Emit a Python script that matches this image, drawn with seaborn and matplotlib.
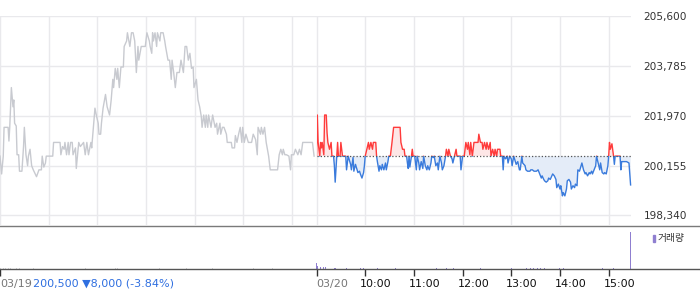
import numpy as np
import pandas as pd
import matplotlib
matplotlib.use("Agg")
import matplotlib.pyplot as plt
from matplotlib.patches import Rectangle
from matplotlib.lines import Line2D
import seaborn as sns

# ---------------- data ----------------
# minutes after 09:00 on 03/19 (previous session)
day1_min = [0, 2, 4, 5, 10, 11, 12, 14, 16, 17, 18, 20, 21, 23, 24, 27, 29, 30, 32, 34,
            35, 37, 39, 41, 45, 48, 51, 52, 54, 56, 57, 60, 62, 65, 66, 74, 75, 77, 79, 80,
            82, 84, 85, 87, 89, 90, 93, 94, 97, 99, 103, 105, 107, 109, 112, 113, 115, 117, 119, 121,
            122, 124, 125, 127, 130, 132, 135, 137, 139, 140, 142, 144, 145, 147, 149, 152, 153, 156, 157, 160,
            162, 164, 166, 168, 170, 171, 174, 176, 179, 181, 184, 185, 187, 188, 189, 191, 193, 194, 197, 198,
            201, 203, 204, 207, 209, 211, 212, 214, 216, 218, 221, 223, 226, 228, 230, 232, 234, 236, 238, 239,
            242, 244, 246, 248, 249, 251, 253, 254, 256, 257, 260, 262, 265, 267, 268, 271, 272, 274, 276, 279,
            280, 285, 286, 289, 290, 292, 294, 296, 298, 299, 301, 303, 306, 310, 312, 315, 317, 318, 321, 322,
            324, 326, 328, 331, 333, 336, 342, 344, 346, 348, 349, 351, 353, 356, 358, 359, 362, 364, 367, 369,
            371, 373, 376, 385, 387]
day1_price = [200500, 199850, 200500, 201550, 201550, 201050, 201550, 203000, 202300, 202550,
              201700, 201600, 200550, 200550, 199950, 199950, 200850, 201550, 200550, 200150,
              200500, 200750, 200150, 200000, 199750, 200000, 200000, 200500, 200100, 200250,
              200500, 200500, 200500, 200500, 201000, 201000, 200550, 200850, 200750, 201000,
              200550, 201000, 200550, 201000, 201000, 200550, 200800, 200050, 201000, 200850,
              201000, 200550, 201000, 200550, 201000, 200800, 201550, 202250, 201950, 201700,
              201300, 201300, 201700, 202250, 202750, 202300, 202000, 202550, 203300, 203000,
              203700, 203300, 203700, 203000, 203750, 203750, 204500, 204700, 205000, 204500,
              205000, 205000, 204700, 203550, 204500, 204000, 204500, 204500, 204500, 205000,
              204700, 204500, 204250, 205000, 204700, 205000, 204500, 205000, 204700, 205000,
              205000, 204700, 204500, 204000, 204000, 203300, 204000, 203550, 203000, 203550,
              203550, 204000, 203550, 204500, 204500, 204000, 204250, 203700, 203750, 203000,
              203300, 202550, 202300, 201950, 201550, 202000, 201550, 202000, 201550, 202000,
              201550, 202000, 201550, 201700, 201300, 201700, 201300, 201550, 201550, 201300,
              201000, 201000, 200800, 200800, 201250, 201000, 201300, 201550, 201000, 201550,
              201000, 201300, 201000, 201000, 201300, 201100, 200550, 201550, 201300, 201550,
              201300, 201550, 201000, 200500, 200000, 200000, 200000, 200550, 200750, 200550,
              200750, 200550, 200550, 200500, 200000, 200550, 200550, 200750, 200550, 200750,
              200550, 201000, 201000, 201000, 200500]

# minutes after 09:00 on 03/20 (current session)
day2_min = [0, 1, 2, 4, 5, 6, 7, 9, 10, 12, 13, 14, 16, 18, 19, 21, 22, 23, 25, 26,
            27, 29, 30, 32, 36, 37, 39, 40, 42, 43, 45, 46, 48, 50, 51, 53, 54, 56, 58, 59,
            60, 62, 64, 65, 67, 69, 70, 73, 74, 75, 77, 78, 80, 81, 83, 85, 86, 88, 89, 91,
            93, 95, 97, 103, 104, 106, 108, 109, 111, 112, 113, 114, 115, 117, 118, 119, 121, 123, 124, 126,
            127, 129, 131, 132, 134, 136, 137, 139, 141, 142, 144, 145, 147, 149, 150, 152, 154, 155, 157, 159,
            160, 162, 163, 165, 167, 168, 170, 172, 173, 177, 178, 180, 182, 184, 186, 187, 189, 190, 192, 194,
            199, 200, 202, 204, 205, 207, 209, 210, 212, 214, 215, 217, 219, 220, 222, 223, 226, 227, 229, 230,
            231, 233, 235, 236, 238, 240, 241, 243, 245, 246, 248, 250, 251, 253, 254, 257, 258, 260, 263, 264,
            266, 268, 271, 273, 275, 277, 278, 280, 281, 283, 285, 286, 288, 290, 291, 293, 295, 296, 298, 300,
            301, 303, 304, 306, 308, 309, 311, 313, 314, 316, 318, 319, 321, 322, 324, 326, 327, 329, 331, 332,
            334, 336, 337, 339, 340, 342, 344, 345, 347, 349, 350, 352, 354, 355, 357, 359, 360, 361, 362, 364,
            366, 367, 368, 370, 374, 375, 376, 382, 385, 387]
day2_price = [200500, 202000, 201000, 200500, 201000, 200800, 201000, 200550, 202000, 202000,
              201350, 201000, 200750, 201000, 200500, 200500, 200150, 199550, 200500, 201000,
              200500, 200500, 201000, 200500, 200500, 200000, 200500, 200400, 200200, 200000,
              200450, 199950, 200200, 200000, 199900, 199950, 199850, 199700, 199900, 200150,
              200500, 200750, 201000, 200750, 201000, 200750, 201000, 201000, 200500, 200300,
              199950, 200150, 200000, 200200, 200000, 200250, 200000, 200300, 200500, 200500,
              201000, 201550, 201550, 201550, 201000, 200750, 200750, 200500, 200500, 200250,
              200050, 200500, 200100, 200500, 200750, 200500, 200500, 200000, 200500, 200250,
              200000, 200300, 200050, 200500, 200150, 200000, 200150, 200000, 200250, 200500,
              200450, 200500, 200150, 200250, 200000, 200500, 200250, 200000, 200150, 200500,
              200750, 200500, 200750, 200500, 200400, 200250, 200500, 200750, 200500, 200500,
              200000, 200500, 200500, 201000, 200750, 201000, 200550, 201000, 200500, 201000,
              201000, 201300, 201000, 201000, 200750, 201000, 200750, 201000, 200750, 201000,
              200500, 200750, 200500, 200750, 200500, 200750, 200750, 200500, 200500, 200000,
              200500, 200400, 200500, 200250, 200500, 200400, 200150, 200500, 200300, 200200,
              200300, 200000, 200000, 200500, 200250, 200150, 200000, 199950, 199950, 200000,
              200000, 199950, 199950, 200000, 199850, 199700, 199780, 199650, 199600, 199550,
              199600, 199700, 199650, 199780, 199850, 199780, 199650, 199350, 199480, 199300,
              199420, 199050, 199170, 199050, 199300, 199600, 199650, 199550, 199300, 199420,
              199350, 199480, 199420, 200000, 199950, 200150, 200250, 200000, 199850, 199900,
              199780, 199900, 199850, 199950, 199850, 200000, 200150, 200500, 200250, 200000,
              200250, 199900, 199850, 199900, 199850, 200150, 200500, 201000, 200750, 200950,
              200500, 200200, 200500, 200500, 200500, 200000, 200300, 200300, 200250, 199450]

base_price = 200500          # 03/19 close (dotted reference line)

vol1_min = [1, 4, 7, 10, 13, 16, 20, 24, 41, 53, 105, 142, 145, 197, 230, 262, 287, 312, 336, 361]
vol1 = [3, 2, 3, 2, 3, 2, 2, 3, 2, 2, 3, 2, 3, 2, 2, 2, 2, 2, 2, 2]
vol2_min = [0, 1, 3, 5, 9, 11, 22, 23, 37, 54, 58, 75, 88, 97, 148, 160, 169, 202, 240,
            259, 264, 267, 272, 276, 281, 299, 304, 352, 366, 387]
vol2 = [16, 7, 4, 4, 5, 5, 3, 3, 3, 3, 3, 3, 3, 3, 3, 3, 3, 3, 3,
        3, 3, 3, 3, 3, 3, 3, 3, 3, 3, 100]

y_ticks = [198340, 200155, 201970, 203785, 205600]
day_labels = ["03/19", "03/20"]
hour_labels = ["10:00", "11:00", "12:00", "13:00", "14:00", "15:00"]
close_text = "200,500"
change_text = "\u25bc8,000 (-3.84%)"
legend_label = "거래량"

# ---------------- frames ----------------
session = 390
df1 = pd.DataFrame({"x": day1_min, "price": day1_price})
df2 = pd.DataFrame({"x": np.array(day2_min) + session, "price": day2_price})
v1 = pd.DataFrame({"x": vol1_min, "v": vol1})
v2 = pd.DataFrame({"x": np.array(vol2_min) + session, "v": vol2})

# ---------------- figure ----------------
W, H = 700, 289
fig = plt.figure(figsize=(W / 100, H / 100), dpi=100)
right = 631 / W
ax = fig.add_axes([0, 1 - 225.3 / H, right, (225.3 - 16.3) / H])
axv = fig.add_axes([0, 1 - 268.7 / H, right, (268.7 - 225.3) / H])

RED, BLUE, GRAY = "#ff3b3b", "#3a7bdc", "#c8cad0"
xmax = 777.5
ymin, ymax = 197977, 205600

# grid
hour_x = [60, 120, 180, 240, 300, 360] + [session + 60 * k for k in range(7)]
for xv in [0] + hour_x:
    ax.axvline(xv, color="#e9e9ec", lw=1.0, zorder=0)
for yv in y_ticks:
    ax.axhline(yv, color="#e9e9ec", lw=1.0, zorder=0)

# previous session
sns.lineplot(data=df1, x="x", y="price", ax=ax, color=GRAY, lw=1.0, zorder=3)

# current session fills
xs = df2["x"].to_numpy()
ys = df2["price"].to_numpy()
ax.fill_between(xs, ys, base_price, where=ys >= base_price, interpolate=True,
                color="#fde6e6", lw=0, zorder=1)
ax.fill_between(xs, ys, base_price, where=ys <= base_price, interpolate=True,
                color="#e4ecf8", lw=0, zorder=1)

# current session line, red above / blue below the reference
sns.lineplot(data=df2, x="x", y="price", ax=ax, color=RED, lw=1.0, zorder=3)
ax.lines[-1].set_clip_path(Rectangle((session, base_price), 500, 10000, transform=ax.transData))
sns.lineplot(data=df2, x="x", y="price", ax=ax, color=BLUE, lw=1.0, zorder=3)
ax.lines[-1].set_clip_path(Rectangle((session, base_price - 10000), 500, 10000, transform=ax.transData))

ax.hlines(base_price, session, df2["x"].max(), colors="#555555", lw=0.9,
          linestyles=(0, (1, 1.6)), zorder=4)

ax.set_xlim(0, xmax)
ax.set_ylim(ymin, ymax)
ax.set_xlabel("")
ax.set_ylabel("")
ax.set_xticks([])
ax.yaxis.tick_right()
ax.set_yticks(y_ticks)
ax.set_yticklabels([f"{v:,}" for v in y_ticks])
ax.tick_params(axis="y", length=0, pad=9, labelsize=7.6, labelcolor="#333333")
for s in ax.spines.values():
    s.set_visible(False)

# volume
axv.bar(v1["x"], v1["v"], width=1.0, color="#d6d6da", lw=0)
axv.bar(v2["x"], v2["v"], width=1.0, color="#8f7fd0", lw=0)
axv.set_xlim(0, xmax)
axv.set_ylim(0, 118)
axv.set_yticks([])
axv.set_xticks([0, session] + [session + 60 * k for k in range(1, 7)])
axv.set_xticklabels([])
axv.tick_params(axis="x", length=5, width=1, color="#333333", direction="out")
for s in axv.spines.values():
    s.set_visible(False)

# separator lines spanning the full width
fig.add_artist(Line2D([0, 1], [1 - 225.6 / H] * 2, color="#7a7a7a", lw=1.0))
fig.add_artist(Line2D([0, 1], [1 - 268.9 / H] * 2, color="#555555", lw=1.0))

# bottom labels
lab_y = 1 - 283.7 / H
fs = 8
axv.annotate(day_labels[0], xy=(0, 0), xycoords=("data", "axes fraction"),
             xytext=(0, -15.3), textcoords="offset pixels", ha="left", va="center",
             fontsize=fs, color="#777777")
t = axv.annotate(close_text + " " + change_text, xy=(0, 0), xycoords=("data", "axes fraction"),
                 xytext=(33, -15.3), textcoords="offset pixels", ha="left", va="center",
                 fontsize=fs, color="#2f6fe0")
axv.annotate(day_labels[1], xy=(session, 0), xycoords=("data", "axes fraction"),
             xytext=(0, -15.3), textcoords="offset pixels", ha="left", va="center",
             fontsize=fs, color="#777777")
for k, lab in enumerate(hour_labels, start=1):
    axv.annotate(lab, xy=(session + 60 * k, 0), xycoords=("data", "axes fraction"),
                 xytext=(-5, -15.3), textcoords="offset pixels", ha="left", va="center",
                 fontsize=fs, color="#111111")

# legend for volume
fig.patches.append(Rectangle((653 / W, 1 - 241.5 / H), 2.2 / W, 7 / H,
                             transform=fig.transFigure, color="#8f7fd0"))
fig.text(657.5 / W, 1 - 238 / H, legend_label, ha="left", va="center", fontsize=7,
         color="#333333", family=["Noto Sans CJK KR", "DejaVu Sans"])

fig.savefig("out.png", dpi=100, facecolor="white")
